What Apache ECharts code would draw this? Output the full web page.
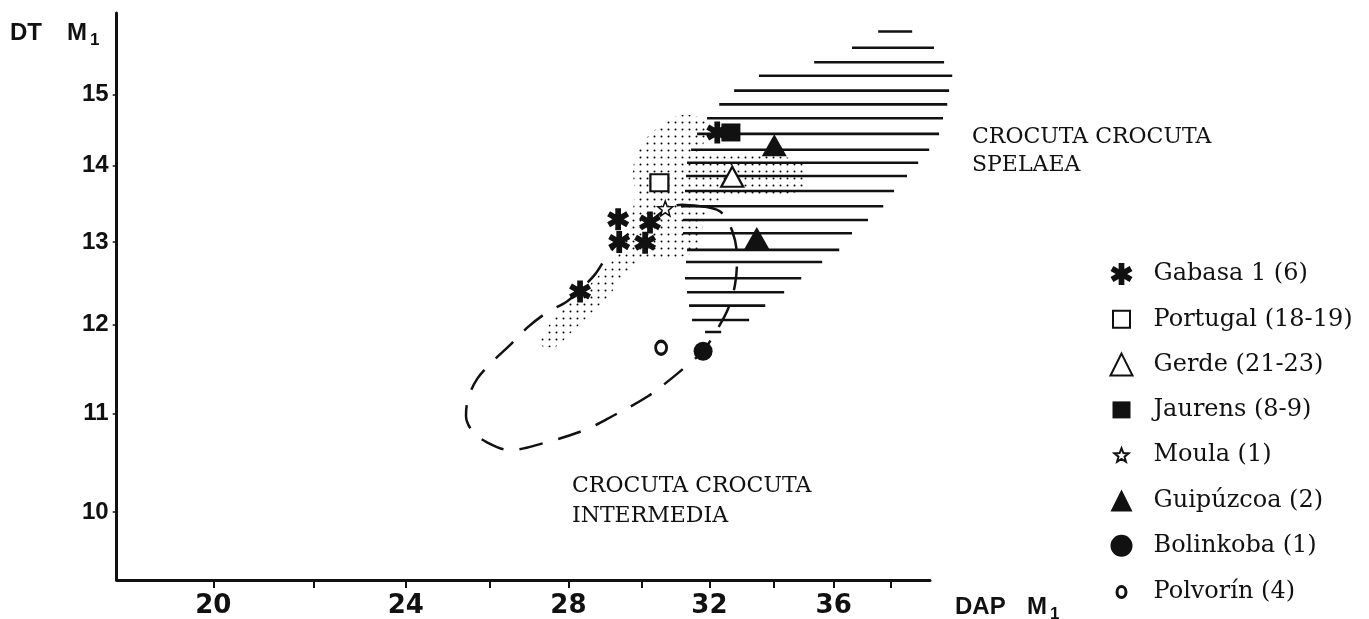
<!DOCTYPE html>
<html>
<head>
<meta charset="utf-8">
<script src="https://cdn.jsdelivr.net/npm/echarts@6.0.0/dist/echarts.min.js"></script>
<style>
html, body { margin: 0; background: #fff; }
#container { width: 1369px; height: 619px; }
</style>
</head>
<body>
<div id="container"></div>
<script>
// M1 of Crocuta crocuta: DAP (length) against DT (breadth), log-log paper
const xTicks = [20, 22, 24, 26, 28, 30, 32, 34, 36, 38]
const xLabels = [20, 24, 28, 32, 36]
const yTicks = [10, 11, 12, 13, 14, 15]

// sites
const gabasa = [[28.31, 12.39], [29.38, 13.00], [29.35, 13.29], [30.25, 13.25], [30.11, 12.99], [32.24, 14.46]]
const portugal = [[30.52, 13.77]]
const gerde = [[32.70, 13.85]]
const jaurens = [[32.66, 14.46]]
const moula = [[30.69, 13.43]]
const guipuzcoa = [[34.03, 14.28], [33.47, 13.05]]
const bolinkoba = [[31.81, 11.69]]
const polvorin = [[30.57, 11.73]]

// C. c. spelaea field (hatched): one line per DT value
const hatchY = [15.95, 15.70, 15.48, 15.28, 15.06, 14.86, 14.66, 14.44, 14.22, 14.04, 13.86,
                13.66, 13.46, 13.28, 13.11, 12.90, 12.75, 12.55, 12.38, 12.22, 12.05]
const hatchFrom = [37.55, 36.63, 35.34, 33.54, 32.76, 32.30, 31.93, 31.63, 31.45, 31.33, 31.30,
                   31.27, 31.15, 31.21, 31.21, 31.33, 31.30, 31.27, 31.33, 31.39, 31.48]
const hatchTo = [38.78, 39.59, 39.97, 40.28, 40.16, 40.09, 39.93, 39.78, 39.41, 39.00, 38.59,
                 38.12, 37.73, 37.19, 36.63, 36.19, 35.61, 34.91, 34.35, 33.74, 33.23]

// stippled field
const stippleX = [27.26, 27.65, 28.18, 28.85, 29.27, 29.63, 29.74, 29.82, 29.77, 29.91, 30.25, 30.77,
                  31.27, 31.72, 32.02, 31.87, 31.78, 32.63, 34.22, 34.97, 35.04, 34.87, 33.58, 32.33,
                  31.87, 31.78, 31.72, 31.12, 30.40, 29.97, 29.54, 29.13, 28.58, 28.04, 27.65]
const stippleY = [11.77, 12.09, 12.30, 12.60, 12.81, 13.06, 13.35, 13.62, 13.95, 14.22, 14.43, 14.64,
                  14.71, 14.67, 14.57, 14.36, 14.19, 14.15, 14.13, 14.02, 13.81, 13.66, 13.59, 13.55,
                  13.35, 13.10, 12.91, 12.81, 12.81, 12.76, 12.60, 12.36, 12.12, 11.89, 11.74]

// C. c. intermedia field (dashed loop)
const loopX = [31.72, 32.33, 32.70, 32.85, 32.79, 32.57, 32.14, 31.81, 31.42, 30.92, 30.19, 29.21,
               28.44, 27.33, 26.49, 25.92, 25.56, 25.41, 25.46, 25.68, 26.07, 26.49, 26.95, 27.44,
               27.96, 28.31, 28.72, 29.04, 29.40, 29.82, 30.25, 30.69, 31.18, 31.72]
const loopY = [13.46, 13.39, 13.14, 12.81, 12.48, 12.18, 11.88, 11.69, 11.56, 11.40, 11.19, 10.98,
               10.83, 10.69, 10.62, 10.70, 10.82, 10.98, 11.16, 11.38, 11.58, 11.76, 11.97, 12.14,
               12.27, 12.41, 12.60, 12.82, 13.01, 13.16, 13.26, 13.41, 13.48, 13.46]
const tBarX = [31.87, 32.36]
const tBarY = [11.91, 11.91]

const ink = '#111'

function bar(angle) {
    let a = angle * Math.PI / 180
    let c = Math.cos(a), s = Math.sin(a)
    let L = 10, w = 2.6
    let pts = [[L, w], [L, -w], [-L, -w], [-L, w]].map(p =>
        (10 + p[0] * c - p[1] * s).toFixed(2) + ' ' + (10 - p[0] * s - p[1] * c).toFixed(2))
    return 'M' + pts.join(' L') + ' Z'
}
const asterisk = 'path://' + [90, 30, -30].map(bar).join(' ')

function star(R, r, cx, cy) {
    let pts = []
    for (let i = 0; i < 10; i++) {
        let rr = i % 2 ? r : R
        let a = -Math.PI / 2 + i * Math.PI / 5
        pts.push((cx + rr * Math.cos(a)).toFixed(2) + ' ' + (cy + rr * Math.sin(a)).toFixed(2))
    }
    return 'M' + pts.join(' L') + ' Z'
}
// legend icons sit in a 22px box; the M0 0 M22 22 keeps the box so smaller glyphs stay small
const pad = 'path://M0 0 M22 22 '
const icons = {
    'Portugal (18-19)': { icon: pad + 'M2.5 2.5 L19.5 2.5 L19.5 19.5 L2.5 19.5 Z' },
    'Jaurens (8-9)': { icon: pad + 'M2 2.5 L20 2.5 L20 19.5 L2 19.5 Z' },
    'Moula (1)': { icon: pad + star(7.5, 3.2, 11, 11.5) },
    'Polvorín (4)': {
        icon: pad + 'M11 6 A4.5 5.5 0 1 1 11 17 A4.5 5.5 0 1 1 11 6 Z',
        itemStyle: { borderWidth: 3, borderColor: ink, color: '#fff' }
    }
}

// dot pattern for the stipple
let dot = document.createElement('canvas')
dot.width = 7
dot.height = 7
let ctx = dot.getContext('2d')
ctx.fillStyle = '#000'
ctx.beginPath()
ctx.arc(3.5, 3.5, 1, 0, Math.PI * 2)
ctx.fill()

const pairs = (xs, ys) => xs.map((x, i) => [x, ys[i]])

var dom = document.getElementById('container')
var myChart = echarts.init(dom, null, { renderer: 'canvas' })

function site(name, data, symbol, size, fill, border) {
    return {
        name: name,
        type: 'scatter',
        data: data,
        symbol: symbol,
        symbolSize: size,
        z: 5,
        itemStyle: {
            color: fill,
            borderColor: ink,
            borderWidth: border,
            opacity: 1
        }
    }
}

const names = ['Gabasa 1 (6)', 'Portugal (18-19)', 'Gerde (21-23)', 'Jaurens (8-9)',
               'Moula (1)', 'Guipúzcoa (2)', 'Bolinkoba (1)', 'Polvorín (4)']

const bold24 = 'bold 24px "Liberation Sans"'
const bold17 = 'bold 17px "Liberation Sans"'

var option = {
    animation: false,
    backgroundColor: '#fff',
    grid: { left: 116.7, right: 439, top: 13, bottom: 37.3, containLabel: false },
    xAxis: {
        type: 'log',
        logBase: 10,
        min: 18.25,
        max: 39.44,
        splitLine: { show: false },
        axisLine: { lineStyle: { color: ink, width: 3 } },
        axisTick: { customValues: xTicks, length: 8, lineStyle: { color: ink, width: 2 } },
        axisLabel: {
            customValues: xLabels,
            margin: 13,
            color: ink,
            fontFamily: 'DejaVu Sans',
            fontWeight: 'bold',
            fontSize: 26
        }
    },
    yAxis: {
        type: 'log',
        logBase: 10,
        min: 9.36,
        max: 16.24,
        splitLine: { show: false },
        axisLine: { lineStyle: { color: ink, width: 3 } },
        axisTick: { customValues: yTicks, length: 4, lineStyle: { color: ink, width: 1.5 } },
        axisLabel: {
            customValues: yTicks,
            margin: 8,
            color: ink,
            fontFamily: 'Liberation Sans',
            fontWeight: 'bold',
            fontSize: 24
        }
    },
    legend: {
        orient: 'vertical',
        left: 1104,
        top: 257,
        itemWidth: 22,
        itemHeight: 22,
        itemGap: 21.3,
        selectedMode: false,
        textStyle: {
            fontFamily: 'DejaVu Serif',
            fontSize: 24,
            lineHeight: 24,
            color: ink,
            padding: [0, 0, 0, 16]
        },
        data: names.map(n => Object.assign({ name: n }, icons[n] || {}))
    },
    graphic: [
        { type: 'text', left: 10, top: 21, style: { text: 'DT', font: bold24, fill: ink } },
        { type: 'text', left: 67, top: 21, style: { text: 'M', font: bold24, fill: ink } },
        { type: 'text', left: 90, top: 32, style: { text: '1', font: bold17, fill: ink } },
        { type: 'text', left: 955, top: 595, style: { text: 'DAP', font: bold24, fill: ink } },
        { type: 'text', left: 1027, top: 595, style: { text: 'M', font: bold24, fill: ink } },
        { type: 'text', left: 1050, top: 606, style: { text: '1', font: bold17, fill: ink } },
        { type: 'text', left: 972, top: 123, style: { text: 'CROCUTA CROCUTA\nSPELAEA', font: '22px "DejaVu Serif"', lineHeight: 28, fill: ink } },
        { type: 'text', left: 572, top: 471, style: { text: 'CROCUTA CROCUTA\nINTERMEDIA', font: '22px "DejaVu Serif"', lineHeight: 30, fill: ink } }
    ],
    series: [
        {
            type: 'custom',
            silent: true,
            z: 1,
            data: [[stippleX[0], stippleY[0]]],
            renderItem: function (params, api) {
                let points = stippleX.map((x, i) => api.coord([x, stippleY[i]]))
                return {
                    type: 'polygon',
                    shape: { points: points, smooth: 0.3 },
                    style: { fill: { image: dot, repeat: 'repeat' }, stroke: null }
                }
            }
        },
        {
            type: 'custom',
            silent: true,
            z: 2,
            data: hatchY.map((y, i) => [hatchFrom[i], y, hatchTo[i]]),
            renderItem: function (params, api) {
                let a = api.coord([api.value(0), api.value(1)])
                let b = api.coord([api.value(2), api.value(1)])
                return {
                    type: 'line',
                    shape: { x1: a[0], y1: a[1], x2: b[0], y2: b[1] },
                    style: { stroke: ink, lineWidth: 2.6 }
                }
            }
        },
        {
            type: 'line',
            data: pairs(loopX, loopY),
            smooth: 0.35,
            symbol: 'none',
            silent: true,
            clip: false,
            z: 3,
            lineStyle: { color: ink, width: 2.5, type: [24, 16] }
        },
        {
            type: 'line',
            data: pairs(tBarX, tBarY),
            symbol: 'none',
            silent: true,
            z: 3,
            lineStyle: { color: ink, width: 2.5 }
        },
        site('Gabasa 1 (6)', gabasa, asterisk, 22, ink, 0),
        site('Portugal (18-19)', portugal, 'rect', [18, 17], '#fff', 2.2),
        site('Gerde (21-23)', gerde, 'triangle', [22, 20], '#fff', 2.2),
        site('Jaurens (8-9)', jaurens, 'rect', [19, 18], ink, 0),
        site('Moula (1)', moula, 'path://' + star(10, 4.2, 10, 10), 15, '#fff', 1.5),
        site('Guipúzcoa (2)', guipuzcoa, 'triangle', [25, 22], ink, 0),
        site('Bolinkoba (1)', bolinkoba, 'circle', 19, ink, 0),
        site('Polvorín (4)', polvorin, 'circle', [11, 13], '#fff', 3)
    ]
}

if (option && typeof option === 'object') {
    myChart.setOption(option)
}

window.addEventListener('resize', myChart.resize)
</script>
</body>
</html>
